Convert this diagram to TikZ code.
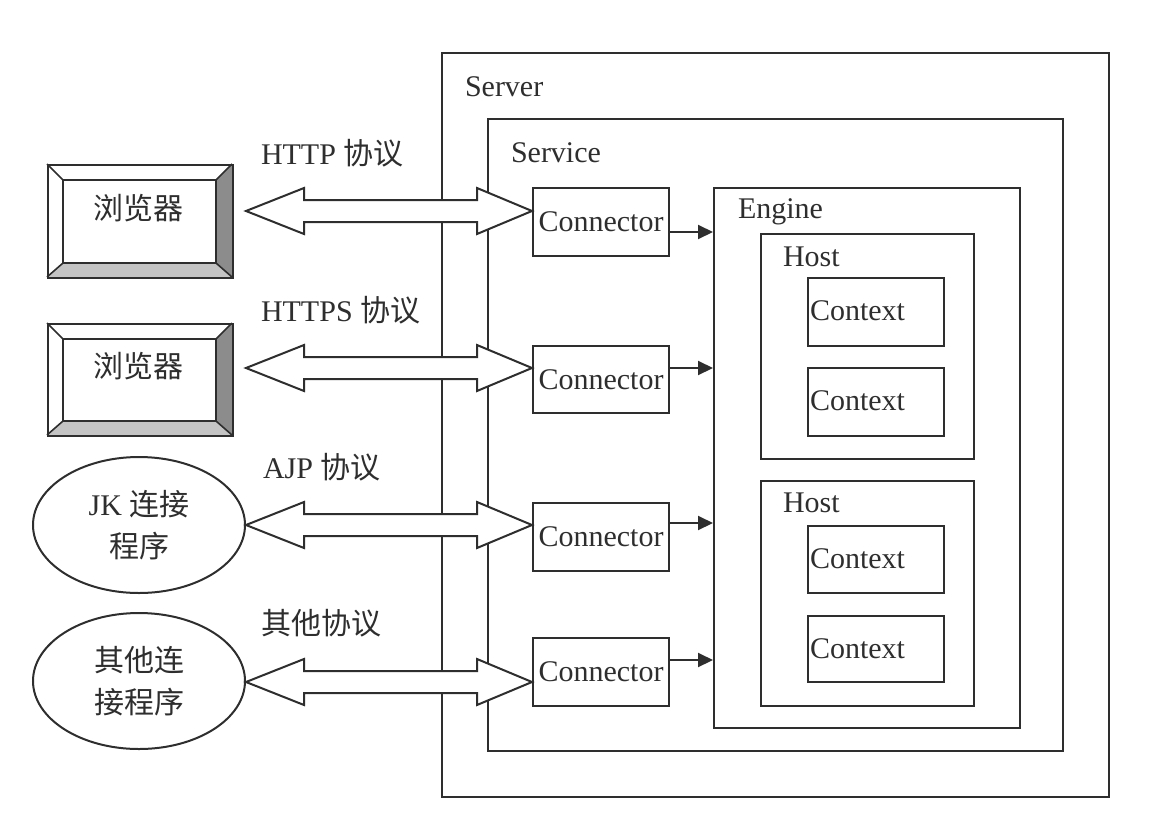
\documentclass[tikz,border=0pt]{standalone}
\usepackage{fontspec}
\setmainfont{Liberation Serif}
\newfontfamily\cjk{Noto Sans CJK SC}
\usetikzlibrary{shapes.geometric,arrows.meta}
\definecolor{ink}{HTML}{2E2E2E}
\definecolor{bevdark}{HTML}{8C8C8C}
\definecolor{bevlight}{HTML}{C4C4C4}
\begin{document}
\begin{tikzpicture}[x=1pt,y=-1pt,line width=2pt,
  every node/.style={font=\fontsize{30}{42}\selectfont, text=ink},
  box/.style={draw=ink, rectangle, anchor=north west, inner sep=0pt},
  lbl/.style={anchor=west, inner sep=0pt},
  dbl/.style={draw=ink, fill=white, line join=miter},
  flow/.style={-{Triangle[length=15pt,width=14pt]}, draw=ink},
  prog/.style={draw=ink, ellipse, minimum width=212pt, minimum height=136pt, align=center, inner sep=0pt}
]
\useasboundingbox (0,0) rectangle (1150,822);

% containers
\node[box, minimum width=667pt, minimum height=744pt] (server) at (441,52) {};
\node[lbl] (serverlbl) at (464,87) {Server};
\node[box, minimum width=575pt, minimum height=632pt] (service) at (487,118) {};
\node[lbl] (servicelbl) at (510,153) {Service};
\node[box, minimum width=306pt, minimum height=540pt] (eng) at (713,187) {};
\node[lbl] (englbl) at (737,212) {Engine};
\node[box, minimum width=213pt, minimum height=225pt] (host1) at (760,233) {};
\node[lbl] (host1lbl) at (782,257) {Host};
\node[box, minimum width=213pt, minimum height=225pt] (host2) at (760,480) {};
\node[lbl] (host2lbl) at (782,503) {Host};

% contexts
\node[box, minimum width=136pt, minimum height=68pt] (ctx1) at (807,277) {};
\node[lbl] (ctx1t) at (809,311) {Context};
\node[box, minimum width=136pt, minimum height=68pt] (ctx2) at (807,367) {};
\node[lbl] (ctx2t) at (809,401) {Context};
\node[box, minimum width=136pt, minimum height=67pt] (ctx3) at (807,525) {};
\node[lbl] (ctx3t) at (809,559) {Context};
\node[box, minimum width=136pt, minimum height=66pt] (ctx4) at (807,615) {};
\node[lbl] (ctx4t) at (809,649) {Context};

% connectors
\node[box, minimum width=136pt, minimum height=68pt] (c1) at (532,187) {Connector};
\node[box, minimum width=136pt, minimum height=67pt] (c2) at (532,345) {Connector};
\node[box, minimum width=136pt, minimum height=68pt] (c3) at (532,502) {Connector};
\node[box, minimum width=136pt, minimum height=68pt] (c4) at (532,637) {Connector};

% connector -> engine
\draw[flow] (c1.east |- 0,232) -- (eng.west |- 0,232);
\draw[flow] (c2.east |- 0,368) -- (eng.west |- 0,368);
\draw[flow] (c3.east |- 0,523) -- (eng.west |- 0,523);
\draw[flow] (c4.east |- 0,660) -- (eng.west |- 0,660);

% browsers (bevelled boxes)
\foreach \n/\t/\b in {b1/164/277, b2/323/435}{
  \pgfmathsetmacro{\ti}{\t+16}
  \pgfmathsetmacro{\bi}{\b-14}
  \fill[white] (47,\t) -- (232,\t) -- (216,\ti) -- (63,\ti) -- cycle;
  \fill[white] (47,\t) -- (63,\ti) -- (63,\bi) -- (47,\b) -- cycle;
  \fill[bevdark] (232,\t) -- (232,\b) -- (216,\bi) -- (216,\ti) -- cycle;
  \fill[bevlight] (47,\b) -- (232,\b) -- (216,\bi) -- (63,\bi) -- cycle;
  \draw[ink] (63,\ti) rectangle (216,\bi);
  \draw[ink, line width=1.6pt] (47,\t) -- (63,\ti) (232,\t) -- (216,\ti) (232,\b) -- (216,\bi) (47,\b) -- (63,\bi);
  \node[box, minimum width=185pt, minimum height=\b-\t] (\n) at (47,\t) {};
}
\node (b1t) at (138,208) {\cjk 浏览器};
\node (b2t) at (138,366) {\cjk 浏览器};

% other clients
\node[prog] (e1) at (139,525) {JK {\cjk 连接}\\{\cjk 程序}};
\node[prog] (e2) at (139,681) {{\cjk 其他连}\\{\cjk 接程序}};

% double arrows
\coordinate (l1) at (246,211); \coordinate (r1) at (c1.west |- l1);
\coordinate (l2) at (246,368); \coordinate (r2) at (c2.west |- l2);
\coordinate (l3) at (246,525); \coordinate (r3) at (c3.west |- l3);
\coordinate (l4) at (246,682); \coordinate (r4) at (c4.west |- l4);
\foreach \i in {1,2,3,4}{
  \draw[dbl] (l\i) -- ++(58,-23) -- ++(0,12) -- ++(173,0) -- ++(0,-12) -- (r\i)
    -- ++(-55,23) -- ++(0,-12) -- ++(-173,0) -- ++(0,12) -- cycle;
}

% protocol labels
\node[lbl] (p1) at (260,153) {HTTP {\cjk 协议}};
\node[lbl] (p2) at (260,310) {HTTPS {\cjk 协议}};
\node[lbl] (p3) at (262,467) {AJP {\cjk 协议}};
\node[lbl] (p4) at (260,623) {\cjk 其他协议};
\end{tikzpicture}
\end{document}
